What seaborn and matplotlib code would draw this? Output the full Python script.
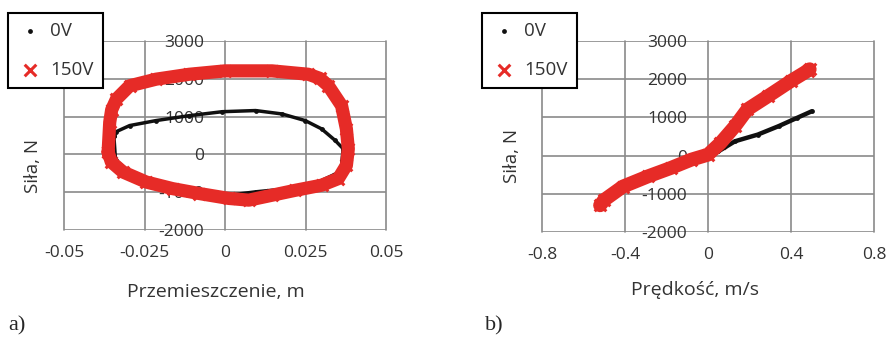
import matplotlib
matplotlib.use('Agg')
import matplotlib.pyplot as plt
from matplotlib.ticker import FuncFormatter
import seaborn as sns

# a) sila vs przemieszczenie (odczytane z wykresu)
disp_0v = [-0.0345, -0.0337, -0.0296, -0.0214, -0.0111, -0.0008, 0.0095, 0.0177,
           0.0249, 0.0300, 0.0342, 0.0367, 0.0360, 0.0290, 0.0198, 0.0095, 0.0012,
           -0.0080, -0.0214, -0.0296, -0.0340, -0.0345]
force_disp_0v = [480, 605, 763, 895, 1025, 1130, 1160, 1070,
                 895, 675, 370, 150, -450, -730, -905, -990, -1080,
                 -950, -730, -465, -150, 480]

disp_150v = [-0.0363, -0.0358, -0.0352, -0.0337, -0.0296, -0.0214, -0.0111, 0.0000,
             0.0146, 0.0259, 0.0295, 0.0321, 0.0362, 0.0377, 0.0383, 0.0377, 0.0352,
             0.0300, 0.0218, 0.0146, 0.0074, 0.0012, -0.0080, -0.0163, -0.0245,
             -0.0317, -0.0353, -0.0363]
force_disp_150v = [60, 850, 1180, 1465, 1815, 1990, 2120, 2210,
                   2210, 2120, 2010, 1815, 1290, 675, 150, -290, -640,
                   -815, -950, -1080, -1210, -1165, -1035, -905, -730,
                   -465, -200, 60]

# b) sila vs predkosc
vel_0v = [-0.51, -0.40, -0.30, -0.20, -0.10, 0.00, 0.05, 0.13, 0.24, 0.34, 0.43, 0.50]
force_vel_0v = [-1060, -850, -640, -430, -230, -40, 110, 375, 550, 770, 990, 1160]

vel_150v = [-0.52, -0.50, -0.41, -0.29, -0.18, -0.08, 0.00, 0.06, 0.13, 0.19,
            0.29, 0.40, 0.48, 0.49]
force_vel_150v = [-1300, -1160, -810, -545, -325, -105, 25, 330, 770, 1210,
                  1560, 1955, 2220, 2260]

disp_ticks = [-0.05, -0.025, 0, 0.025, 0.05]
vel_ticks = [-0.8, -0.4, 0, 0.4, 0.8]
force_ticks = [-2000, -1000, 0, 1000, 2000, 3000]

sns.set_style('white')
plt.rcParams['font.family'] = ['Open Sans', 'DejaVu Sans']

RED = '#e62b27'
BLACK = '#101010'
GRID = '#8a8a8a'
TXT = '#333333'

fig = plt.figure(figsize=(8.9, 3.42), dpi=100)
ax1 = fig.add_axes([64 / 890, 1 - 230 / 342, 322 / 890, 189 / 342])
ax2 = fig.add_axes([542 / 890, 1 - 232 / 342, 332 / 890, 191 / 342])


def draw(ax, x0, y0, x1, y1, lw_black, lw_red):
    sns.lineplot(x=x0, y=y0, sort=False, estimator=None, color=BLACK, lw=lw_black, ax=ax)
    sns.scatterplot(x=x0, y=y0, color=BLACK, s=12, marker='o', linewidth=0,
                    label='0V', ax=ax)
    sns.lineplot(x=x1, y=y1, sort=False, estimator=None, color=RED, lw=lw_red, ax=ax)
    sns.scatterplot(x=x1, y=y1, color=RED, s=70, marker='x', linewidth=2.2,
                    label='150V', ax=ax)


def style(ax, xticks, xlabel, lab_x, lab_y, ylab_x, ylab_y, leg_x):
    ax.set_xlim(xticks[0], xticks[-1])
    ax.set_ylim(force_ticks[0], force_ticks[-1])
    ax.set_xticks(xticks)
    ax.set_yticks(force_ticks)
    fmt = FuncFormatter(lambda v, _: f'{v:g}')
    ax.xaxis.set_major_formatter(fmt)
    ax.yaxis.set_major_formatter(fmt)
    ax.grid(True, color=GRID, lw=1.2)
    ax.set_axisbelow(True)
    for l in ax.get_xgridlines() + ax.get_ygridlines():
        l.set_clip_on(False)
    for s in ax.spines.values():
        s.set_visible(False)
    ax.spines['left'].set_position(('data', 0))
    ax.tick_params(axis='y', length=0, pad=15, labelsize=12.5, labelcolor=TXT)
    ax.tick_params(axis='x', length=0, pad=11, labelsize=12.5, labelcolor=TXT)
    ax.set_xlabel(xlabel, fontsize=14, color=TXT, va='center')
    ax.set_ylabel('Siła, N', fontsize=13.5, color=TXT, va='center')
    ax.xaxis.set_label_coords(lab_x, lab_y)
    ax.yaxis.set_label_coords(ylab_x, ylab_y)
    leg = ax.legend(loc='upper left', bbox_to_anchor=(leg_x / 890, 1 - 13 / 342),
                    bbox_transform=fig.transFigure, frameon=True, fancybox=False,
                    edgecolor='black', framealpha=1, fontsize=13.5, labelcolor=TXT,
                    labelspacing=1.1, handlelength=1.3, handletextpad=0.45,
                    borderpad=0.5, borderaxespad=0)
    leg.get_frame().set_linewidth(1.5)


draw(ax1, disp_0v, force_disp_0v, disp_150v, force_disp_150v, 2.5, 9.5)
draw(ax2, vel_0v, force_vel_0v, vel_150v, force_vel_150v, 3.2, 10)
style(ax1, disp_ticks, 'Przemieszczenie, m', 0.472, -0.328, -0.096, 0.34, 8)
style(ax2, vel_ticks, 'Prędkość, m/s', 0.461, -0.304, -0.090, 0.40, 482)

fig.text(8 / 890, 1 - 326 / 342, 'a)', family='Liberation Serif', fontsize=16, va='center')
fig.text(485 / 890, 1 - 326 / 342, 'b)', family='Liberation Serif', fontsize=16, va='center')

fig.savefig('out.png', dpi=100, facecolor='white')
